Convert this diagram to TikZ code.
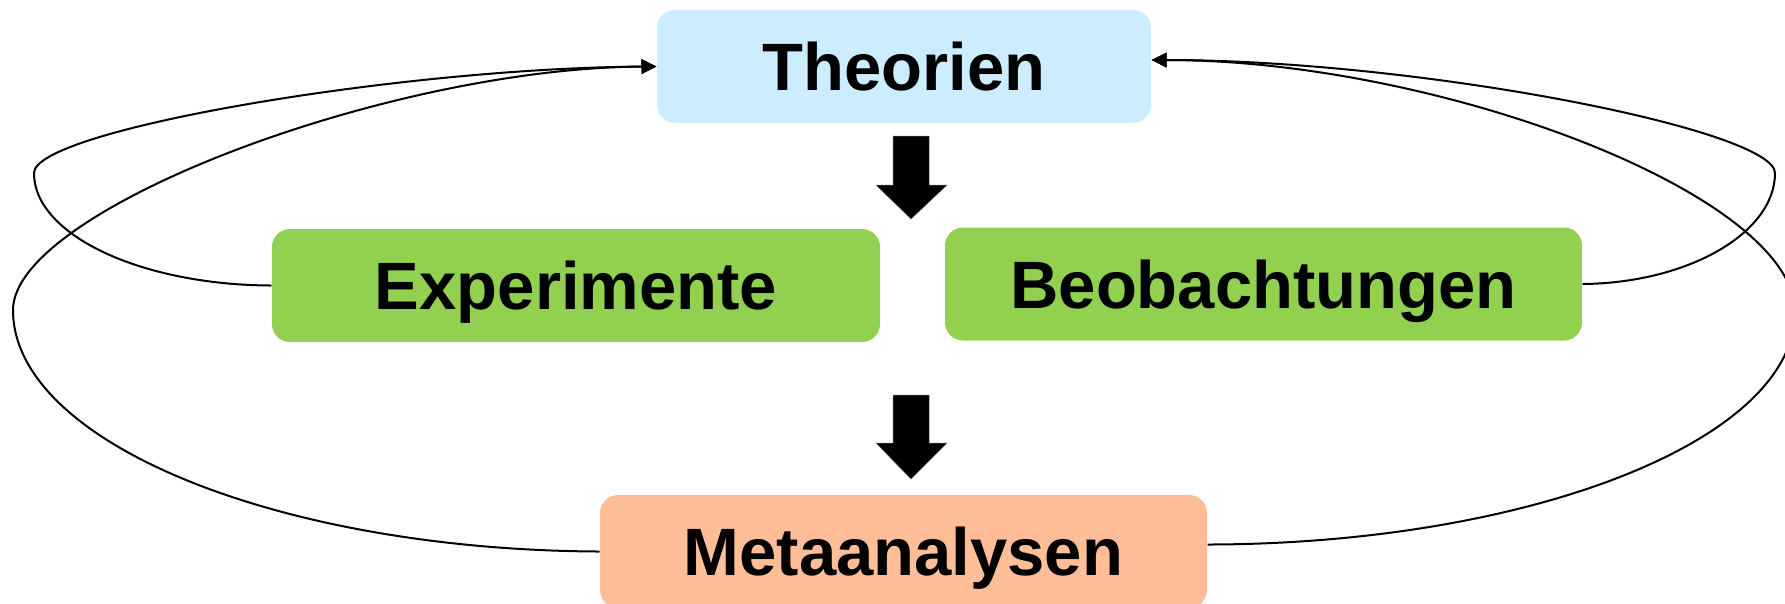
\documentclass[tikz,border=0pt]{standalone}
\usepackage{fontspec}
\setmainfont{Liberation Sans}
\usetikzlibrary{arrows.meta}
\definecolor{theoblue}{HTML}{CCECFF}
\definecolor{expgreen}{HTML}{92D050}
\definecolor{metapeach}{HTML}{FFBE98}
\tikzset{
  box/.style={rounded corners=7.2pt, inner sep=0pt, text height=19.2pt, text depth=0pt,
    minimum height=45.2pt, font=\fontsize{26.8pt}{30pt}\selectfont\bfseries, text=black},
  conn/.style={line width=0.8pt, draw=black, -{Triangle[length=6pt,width=5.8pt]}},
  bigarrow/.style={fill=black, draw=black!60, line width=0.2pt}
}
\begin{document}
\begin{tikzpicture}[x=0.4pt,y=-0.4pt]
\useasboundingbox (0,0) rectangle (1785,603);
\clip (0,0) rectangle (1785,603);
\node[box, fill=theoblue, minimum width=197.6pt] (T) at (904,66.5) {Theorien};
\node[box, fill=expgreen, minimum width=243.2pt] (E) at (576,285.5) {Experimente};
\node[box, fill=expgreen, minimum width=254.8pt] (B) at (1263.5,284) {Beobachtungen};
\node[box, fill=metapeach, minimum width=242.8pt] (M) at (903.5,551.5) {Metaanalysen};
% big block arrows
\fill[bigarrow] (893,136) -- (929,136) -- (929,185) -- (947,185) -- (911,219) -- (876,185) -- (893,185) -- cycle;
\fill[bigarrow] (893,395) -- (929,395) -- (929,443) -- (947,443) -- (911,479) -- (876,443) -- (893,443) -- cycle;
% turning points
\coordinate (LI) at (34,173);
\coordinate (LO) at (13,310);
\coordinate (RI) at (1775,173);
\coordinate (RO) at (1795,312);
\coordinate (TE) at ([yshift=2.6pt]T.east);
\coordinate (ME) at ([yshift=2.8pt]M.east);
% loops
\draw[conn] (E.west) .. controls (141,285) and (34,235) .. (LI) .. controls (34,130) and (400,68) .. (T.west);
\draw[conn] (M.west) .. controls (277,550) and (13,442) .. (LO) .. controls (13,210) and (388,68) .. (T.west);
\draw[conn] (B.east) .. controls (1688,283) and (1775,233) .. (RI) .. controls (1775,130) and (1420,60) .. (TE);
\draw[conn] (ME) .. controls (1530,544) and (1795,440) .. (RO) .. controls (1795,195) and (1440,60) .. (TE);
\end{tikzpicture}
\end{document}
